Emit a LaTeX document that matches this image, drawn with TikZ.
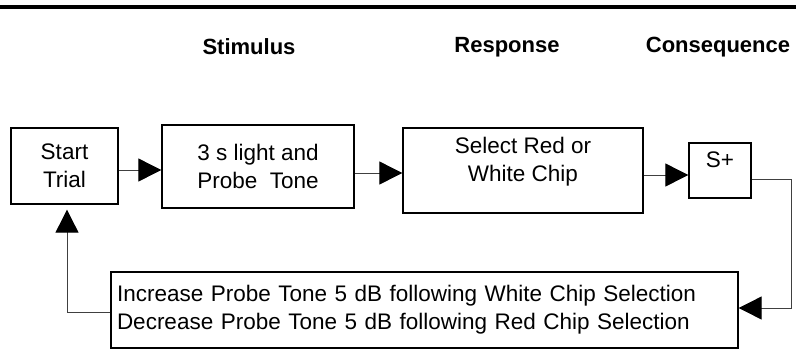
\documentclass[tikz,border=0pt]{standalone}
\usepackage{fontspec}
\setmainfont{Liberation Sans}
\usepackage{tikz}
\usetikzlibrary{arrows.meta}
\usetikzlibrary{calc}

\begin{document}
\begin{tikzpicture}[x=1pt,y=-1pt,
	every node/.style={font=\fontsize{22.5}{28}\selectfont},
	box/.style={draw, line width=1.3pt, rectangle, inner sep=0pt, align=center},
	head/.style={font=\fontsize{22}{28}\selectfont\bfseries},
	arr/.style={draw=black!75, line width=0.9pt, -{Triangle[length=23pt,width=23pt,color=black]}}]
	\useasboundingbox (0,0) rectangle (796,349);
	% top rule
	\draw[line width=3.5pt] (0,7) -- (796,7);
	% column headings
	\node[head] (hstim) at (249,47) {Stimulus};
	\node[head] (hresp) at (507,47) {Response};
	\node[head] (hcons) at (718,47) {Consequence};
	% boxes
	\node[box, minimum width=107pt, minimum height=76pt] (start) at (64.5,166) {Start\\Trial};
	\node[box, minimum width=192pt, minimum height=83pt] (stim) at (258,166.5) {3 s light and\\Probe\ \ Tone};
	\node[box, minimum width=240pt, minimum height=85pt] (resp) at (523,170.5) {};
	\node[align=center] (resptxt) at ([yshift=9pt]resp.center) {Select Red or\\White Chip};
	\node[box, minimum width=62pt, minimum height=55pt] (splus) at (720,170.5) {};
	\node (splustxt) at ([yshift=11pt]splus.center) {S+};
	\node[box, text width=615pt, inner xsep=6pt, minimum height=76pt, align=left] (adjust) at (424.5,310)
		{Increase Probe Tone 5 dB following White Chip Selection\\Decrease Probe Tone 5 dB following Red Chip Selection};
	\coordinate (rturn) at (791,308);
	\coordinate (lturn) at (67,312);
	\path
	([yshift=-4pt]start.east) edge[arr] ([yshift=-4pt]start.east -| stim.west)
	([yshift=-6.5pt]stim.east) edge[arr] ([yshift=-6.5pt]stim.east -| resp.west)
	([yshift=-4.5pt]resp.east) edge[arr] ([yshift=-4.5pt]resp.east -| splus.west)
	;
	\draw[arr] ([yshift=-8.5pt]splus.east) -| (rturn) -- ([yshift=2pt]adjust.east);
	\draw[arr, shorten >=5pt] ([yshift=-2pt]adjust.west) -- (lturn) -- ([xshift=2.5pt]start.south);
\end{tikzpicture}
\end{document}
